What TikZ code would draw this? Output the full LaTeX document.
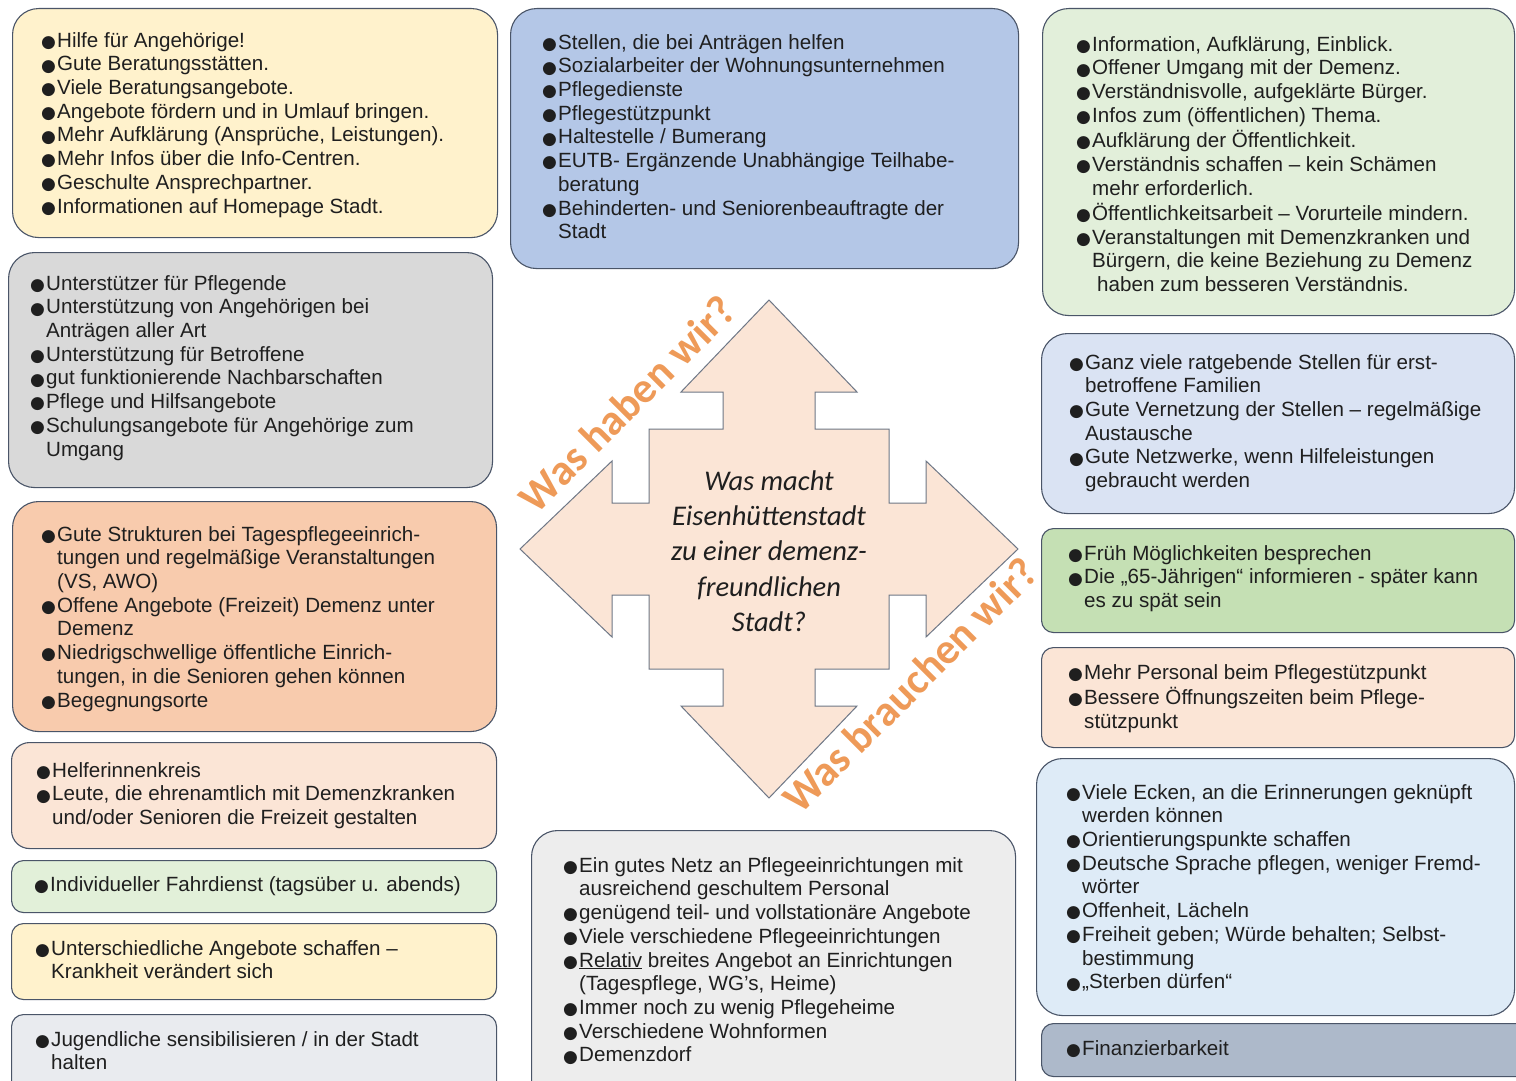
\documentclass[tikz,border=0pt]{standalone}
\usepackage{fontspec}
\setmainfont{Liberation Sans}
\newfontfamily\symfont{DejaVu Sans}
\newfontfamily\calfont{Carlito}
\definecolor{cA}{HTML}{FFF2CC}
\definecolor{cB}{HTML}{B4C7E7}
\definecolor{cC}{HTML}{E2EFDA}
\definecolor{cD}{HTML}{D9D9D9}
\definecolor{cE}{HTML}{F8CBAD}
\definecolor{cF}{HTML}{FBE5D6}
\definecolor{cG}{HTML}{E2F0D9}
\definecolor{cH}{HTML}{E9EBEF}
\definecolor{cI}{HTML}{EDEDED}
\definecolor{cJ}{HTML}{DAE3F3}
\definecolor{cK}{HTML}{C5E0B4}
\definecolor{cL}{HTML}{DEEBF7}
\definecolor{cM}{HTML}{ADB9CA}
\definecolor{edge}{HTML}{4A5568}
\definecolor{orT}{HTML}{EE9A58}
\newcommand\bul{\strut\makebox[16pt][l]{\raisebox{-0.3pt}{\symfont\fontsize{17}{17}\selectfont ●}}}
\newcommand\ind{\strut\hspace*{16pt}}
\begin{document}
\begin{tikzpicture}[x=1pt,y=-1pt,
  boxst/.style={draw=edge, line width=1.1pt, anchor=north west, inner sep=0pt, rounded corners=26pt},
  thin/.style={boxst, rounded corners=12pt},
  txt/.style={inner sep=0pt, anchor=north west, align=left, text=black!88, font=\fontsize{20.6}{23.7}\selectfont},
  lab/.style={rotate=45, text=orT, font=\calfont\bfseries\fontsize{43}{43}\selectfont},
  arrowst/.style={draw=edge!80, line width=1pt, fill=cF, line join=miter}]
\useasboundingbox (0,0) rectangle (1516,1081);
\fill[white] (0,0) rectangle (1516,1081);

% ---------- boxes ----------
\node[boxst, fill=cA, minimum width=485pt, minimum height=229pt] (b1) at (12,8) {};
\node[boxst, fill=cB, minimum width=508pt, minimum height=260pt] (b2) at (510,8) {};
\node[boxst, fill=cC, minimum width=472pt, minimum height=307pt] (b3) at (1042,8) {};
\node[boxst, fill=cD, minimum width=484pt, minimum height=235pt] (b4) at (8,252) {};
\node[boxst, fill=cE, minimum width=484pt, minimum height=230pt] (b5) at (12,501) {};
\node[boxst, fill=cF, minimum width=485pt, minimum height=106pt, rounded corners=18pt] (b6) at (11,742) {};
\node[thin, fill=cG, minimum width=485pt, minimum height=52pt] (b7) at (11,860) {};
\node[thin, fill=cA, minimum width=485pt, minimum height=76pt] (b8) at (11,923) {};
\node[thin, fill=cH, minimum width=485pt, minimum height=100pt] (b9) at (11,1014) {};
\node[boxst, fill=cI, minimum width=484pt, minimum height=280pt] (b10) at (531,830) {};
\node[boxst, fill=cJ, minimum width=473pt, minimum height=180pt] (b11) at (1041,333) {};
\node[thin, fill=cK, minimum width=473pt, minimum height=104pt] (b12) at (1041,528) {};
\node[thin, fill=cF, minimum width=473pt, minimum height=100pt] (b13) at (1041,647) {};
\node[boxst, fill=cL, minimum width=478pt, minimum height=257pt] (b14) at (1036,758) {};
\node[thin, fill=cM, minimum width=490pt, minimum height=53pt] (b15) at (1041,1023) {};

% ---------- texts ----------
\node[txt] (t1) at (41,30.4) {\bul Hilfe für Angehörige!\\
\bul Gute Beratungsstätten.\\
\bul Viele Beratungsangebote.\\
\bul Angebote fördern und in Umlauf bringen.\\
\bul Mehr Aufklärung (Ansprüche, Leistungen).\\
\bul Mehr Infos über die Info-Centren.\\
\bul Geschulte Ansprechpartner.\\
\bul Informationen auf Homepage Stadt.};

\node[txt] (t2) at (542,32.4) {\bul Stellen, die bei Anträgen helfen\\
\bul Sozialarbeiter der Wohnungsunternehmen\\
\bul Pflegedienste\\
\bul Pflegestützpunkt\\
\bul Haltestelle / Bumerang\\
\bul EUTB- Ergänzende Unabhängige Teilhabe-\\
\ind beratung\\
\bul Behinderten- und Seniorenbeauftragte der\\
\ind Stadt};

\node[txt] (t3) at (1076,34.4) {\bul Information, Aufklärung, Einblick.\\
\bul Offener Umgang mit der Demenz.\\
\bul Verständnisvolle, aufgeklärte Bürger.\\
\bul Infos zum (öffentlichen) Thema.\\
\bul Aufklärung der Öffentlichkeit.\\
\bul Verständnis schaffen – kein Schämen\\
\ind mehr erforderlich.\\
\bul Öffentlichkeitsarbeit – Vorurteile mindern.\\
\bul Veranstaltungen mit Demenzkranken und\\
\ind Bürgern, die keine Beziehung zu Demenz\\
\ind\hspace*{5pt}haben zum besseren Verständnis.};

\node[txt] (t4) at (30,273.4) {\bul Unterstützer für Pflegende\\
\bul Unterstützung von Angehörigen bei\\
\ind Anträgen aller Art\\
\bul Unterstützung für Betroffene\\
\bul gut funktionierende Nachbarschaften\\
\bul Pflege und Hilfsangebote\\
\bul Schulungsangebote für Angehörige zum\\
\ind Umgang};

\node[txt] (t5) at (41,524.4) {\bul Gute Strukturen bei Tagespflegeeinrich-\\
\ind tungen und regelmäßige Veranstaltungen\\
\ind (VS, AWO)\\
\bul Offene Angebote (Freizeit) Demenz unter\\
\ind Demenz\\
\bul Niedrigschwellige öffentliche Einrich-\\
\ind tungen, in die Senioren gehen können\\
\bul Begegnungsorte};

\node[txt] (t6) at (36,760.4) {\bul Helferinnenkreis\\
\bul Leute, die ehrenamtlich mit Demenzkranken\\
\ind und/oder Senioren die Freizeit gestalten};

\node[txt] (t7) at (34,874.4) {\bul Individueller Fahrdienst (tagsüber u. abends)};

\node[txt] (t8) at (35,938.4) {\bul Unterschiedliche Angebote schaffen –\\
\ind Krankheit verändert sich};

\node[txt] (t9) at (35,1029.4) {\bul Jugendliche sensibilisieren / in der Stadt\\
\ind halten};

\node[txt] (t10) at (563,855.4) {\bul Ein gutes Netz an Pflegeeinrichtungen mit\\
\ind ausreichend geschultem Personal\\
\bul genügend teil- und vollstationäre Angebote\\
\bul Viele verschiedene Pflegeeinrichtungen\\
\bul \underline{Relativ} breites Angebot an Einrichtungen\\
\ind (Tagespflege, WG's, Heime)\\
\bul Immer noch zu wenig Pflegeheime\\
\bul Verschiedene Wohnformen\\
\bul Demenzdorf};

\node[txt] (t11) at (1069,352.4) {\bul Ganz viele ratgebende Stellen für erst-\\
\ind betroffene Familien\\
\bul Gute Vernetzung der Stellen – regelmäßige\\
\ind Austausche\\
\bul Gute Netzwerke, wenn Hilfeleistungen\\
\ind gebraucht werden};

\node[txt] (t12) at (1068,543.4) {\bul Früh Möglichkeiten besprechen\\
\bul Die „65-Jährigen“ informieren - später kann\\
\ind es zu spät sein};

\node[txt] (t13) at (1068,662.4) {\bul Mehr Personal beim Pflegestützpunkt\\
\bul Bessere Öffnungszeiten beim Pflege-\\
\ind stützpunkt};

\node[txt] (t14) at (1066,782.4) {\bul Viele Ecken, an die Erinnerungen geknüpft\\
\ind werden können\\
\bul Orientierungspunkte schaffen\\
\bul Deutsche Sprache pflegen, weniger Fremd-\\
\ind wörter\\
\bul Offenheit, Lächeln\\
\bul Freiheit geben; Würde behalten; Selbst-\\
\ind bestimmung\\
\bul „Sterben dürfen“};

\node[txt] (t15) at (1066,1038.4) {\bul Finanzierbarkeit};

% ---------- central four-way arrow ----------
\draw[arrowst] (769,300) -- (857,392) -- (815,392) -- (815,429) -- (889,429) -- (889,503)
  -- (926,503) -- (926,461) -- (1018,549) -- (926,637) -- (926,595) -- (889,595)
  -- (889,669) -- (815,669) -- (815,706) -- (857,706) -- (769,798) -- (681,706)
  -- (723,706) -- (723,669) -- (649,669) -- (649,595) -- (612,595) -- (612,637)
  -- (520,549) -- (612,461) -- (612,503) -- (649,503) -- (649,429) -- (723,429)
  -- (723,392) -- (681,392) -- cycle;

\node[align=center, text=black!88, font=\calfont\itshape\fontsize{28.5}{35.3}\selectfont] (q) at (769,551)
  {Was macht\\Eisenhüttenstadt\\zu einer demenz-\\freundlichen\\Stadt?};

\node[lab] (haben) at (627,404) {Was haben wir?};
\node[lab] (brauchen) at (910,685) {Was brauchen wir?};
\end{tikzpicture}
\end{document}
